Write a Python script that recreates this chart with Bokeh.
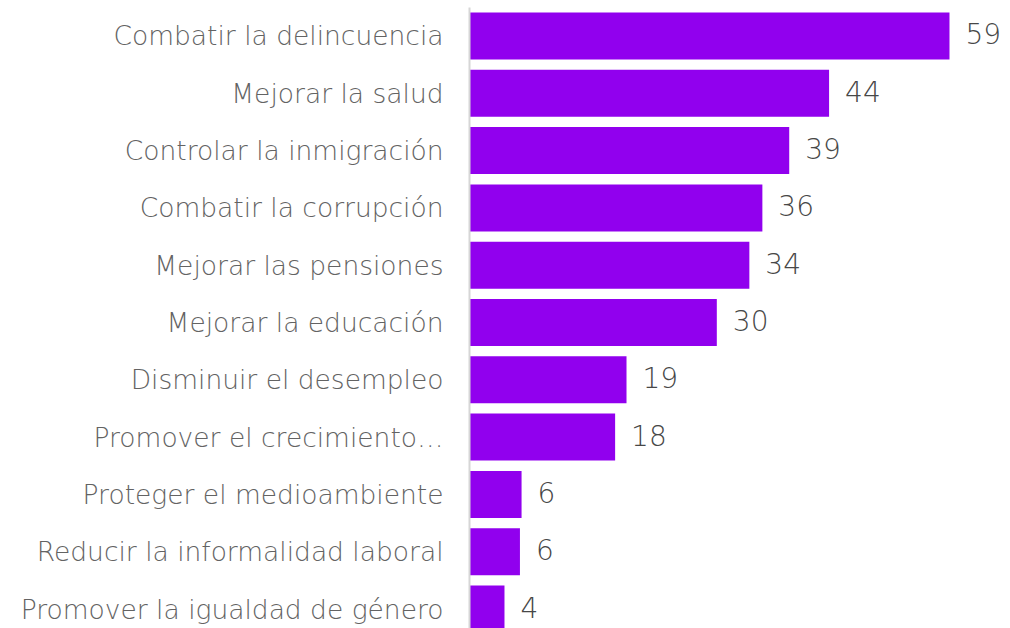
from bokeh.plotting import figure
from bokeh.models import Range1d, FixedTicker, ColumnDataSource, LabelSet
from bokeh.embed import file_html
from bokeh.resources import INLINE
from bokeh.core.properties import value

categories = [
    "Combatir la delincuencia",
    "Mejorar la salud",
    "Controlar la inmigración",
    "Combatir la corrupción",
    "Mejorar las pensiones",
    "Mejorar la educación",
    "Disminuir el desempleo",
    "Promover el crecimiento…",
    "Proteger el medioambiente",
    "Reducir la informalidad laboral",
    "Promover la igualdad de género",
]
values = [59.0, 44.2, 39.3, 36.0, 34.4, 30.4, 19.3, 17.9, 6.4, 6.2, 4.3]
labels = [str(round(v)) for v in values]

positions = list(range(len(categories)))

src = ColumnDataSource(dict(y=positions, v=values, lab=labels))

FONT = "DejaVu Sans Light, DejaVu Sans"

p = figure(width=1010, height=628, output_backend="svg", toolbar_location=None,
           x_range=Range1d(0, 66.5), y_range=Range1d(10.34, -0.497),
           min_border_left=469, min_border_right=0, min_border_top=7, min_border_bottom=0)

p.hbar(y="y", left=0, right="v", height=0.82, source=src, color="#9100EE", line_color=None)

p.add_layout(LabelSet(x="v", y="y", text="lab", source=src, x_offset=16, y_offset=2,
                      text_align="left", text_baseline="middle",
                      text_font=value(FONT), text_font_size="28px",
                      text_color="#474747"))

p.xaxis.visible = False
p.xgrid.visible = False
p.ygrid.visible = False
p.outline_line_color = None

ya = p.yaxis[0]
ya.ticker = FixedTicker(ticks=positions)
ya.major_label_overrides = {i: c for i, c in zip(positions, categories)}
ya.axis_line_color = "#d6d6d6"
ya.axis_line_width = 2
ya.major_tick_line_color = None
ya.minor_tick_line_color = None
ya.major_label_standoff = 20
ya.major_label_text_font = FONT
ya.major_label_text_font_size = "26.5px"
ya.major_label_text_color = "#636363"

html = file_html(p, INLINE)
html = html.replace("</head>", "<style>html,body{overflow:hidden}</style></head>", 1)
open("out.html", "w").write(html)
